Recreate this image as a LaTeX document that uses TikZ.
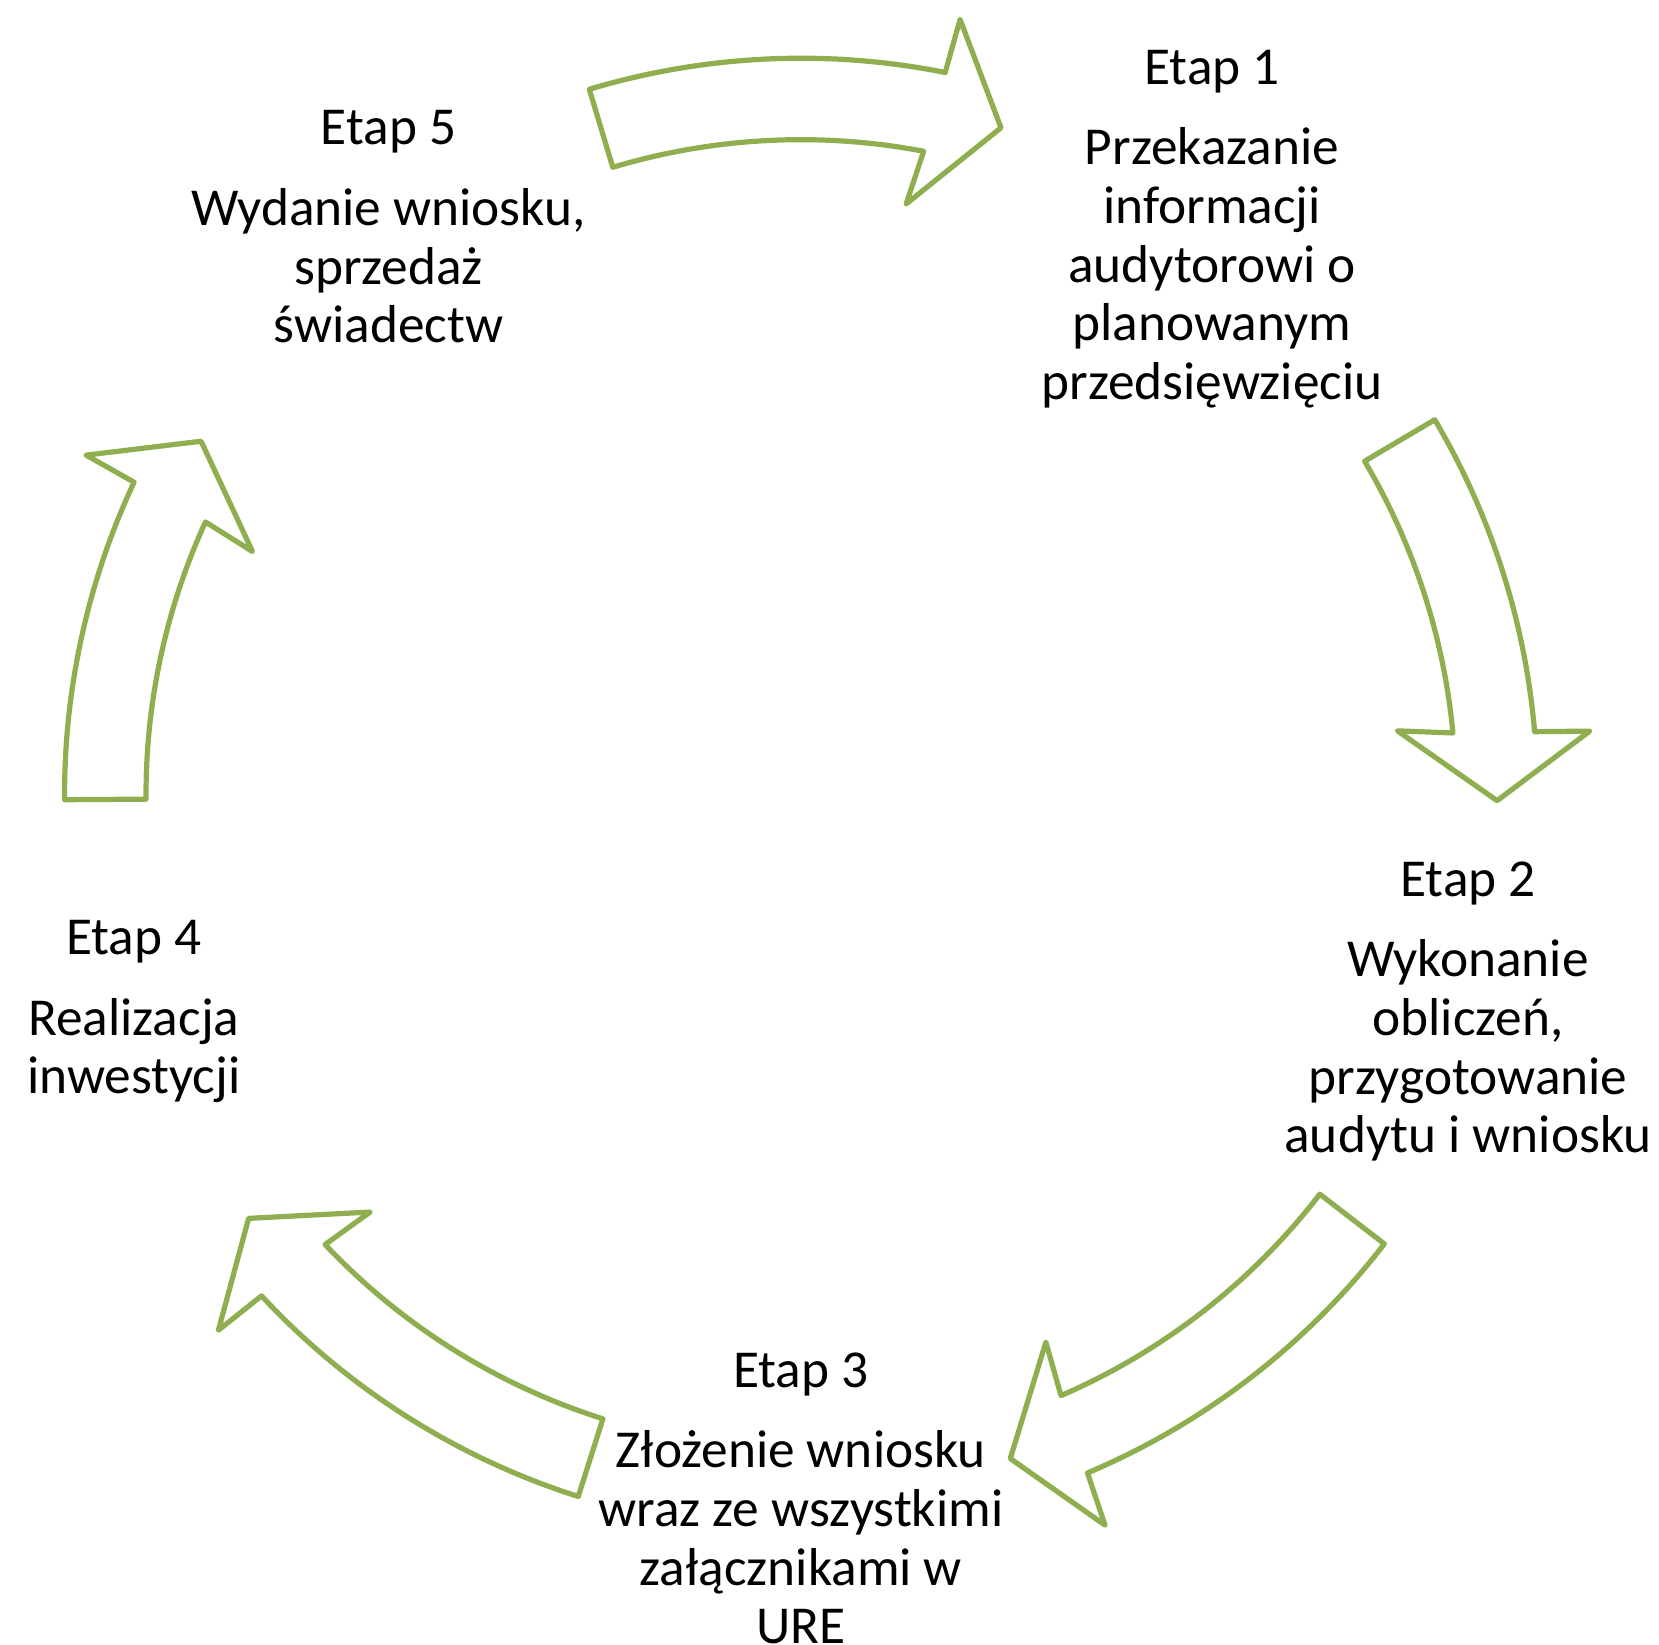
\documentclass[tikz,border=0pt]{standalone}
\usepackage{fontspec}
\setmainfont{Carlito}
\usepackage{xcolor}
\definecolor{olive}{RGB}{143,174,79}

\begin{document}
\begin{tikzpicture}[x=0.02cm,y=0.02cm,
    stage/.style={align=center,inner sep=0pt,font=\fontsize{28.7pt}{31.5pt}\selectfont},
    block/.style={draw=olive,line width=2.8pt,line join=round,fill=white},
]
    \useasboundingbox (-757,-803) rectangle (811,751);
    % curved block arrows: tail angle / tip angle
    \foreach \a/\b in {106.7/73.3, 30.6/-0.5, -37.6/-72.5, -107.6/-142.5, 180.4/149.5}
        \draw[block] (\a:696) arc[start angle=\a, end angle=\b+5.4, radius=696]
            -- ({\b+5.1}:748) -- (\b:658) -- ({\b+6.6}:567) -- ({\b+5.9}:619)
            arc[start angle=\b+5.9, end angle=\a, radius=619] -- cycle;
    % stages
    \node[stage] (s1) at (54:661) {Etap 1\\[12pt]Przekazanie\\informacji\\audytorowi o\\planowanym\\przedsięwzięciu};
    \node[stage] (s2) at (-18:663) {Etap 2\\[12pt]Wykonanie\\obliczeń,\\przygotowanie\\audytu i wniosku};
    \node[stage] (s3) at (-90:665) {Etap 3\\[12pt]Złożenie wniosku\\wraz ze wszystkimi\\załącznikami w\\URE};
    \node[stage] (s4) at (198:663) {Etap 4\\[12pt]Realizacja\\inwestycji};
    \node[stage] (s5) at (126:663) {Etap 5\\[12pt]Wydanie wniosku,\\sprzedaż\\świadectw};
\end{tikzpicture}
\end{document}
